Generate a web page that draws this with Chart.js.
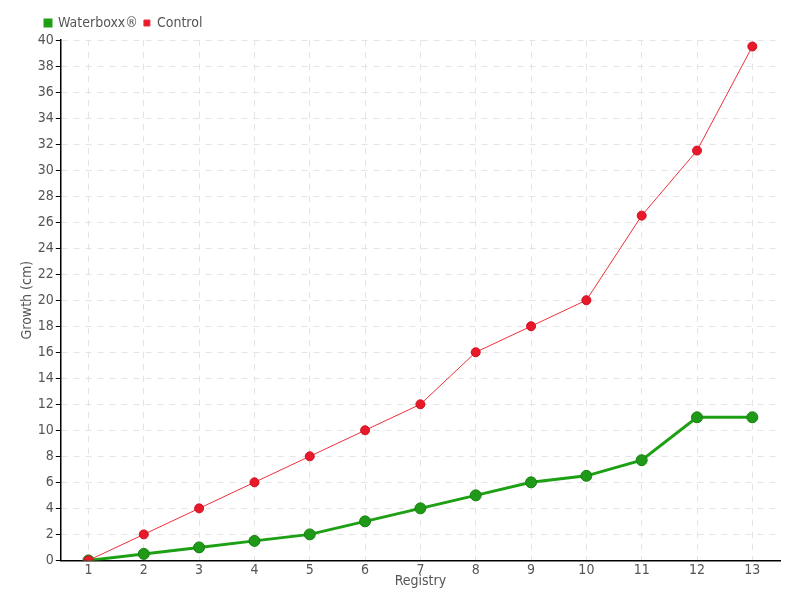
<!DOCTYPE html>
<html><head><meta charset="utf-8">
<script src="https://cdn.jsdelivr.net/npm/chart.js@4/dist/chart.umd.min.js"></script>
<style>html,body{margin:0;padding:0;background:#fff}#wrap{width:800px;height:600px}</style>
</head><body><div id="wrap"><canvas id="c" width="800" height="600"></canvas></div>
<script>
const categories = ['1','2','3','4','5','6','7','8','9','10','11','12','13'];
const waterboxx = [0,0.5,1,1.5,2,3,4,5,6,6.5,7.7,11,11];
const control = [0,2,4,6,8,10,12,16,18,20,26.5,31.5,39.5];
const seriesNames = ['Waterboxx®','Control'];
const FONT = "'DejaVu Sans Condensed', 'Liberation Sans Narrow', sans-serif";
const legendShift = {
  id: 'legendShift',
  afterLayout(chart) {
    const l = chart.legend;
    if (l && !l._shifted) {
      const d = l.draw.bind(l);
      l.draw = function (a) { const ctx = this.ctx; ctx.save(); ctx.translate(20, 0); d(a); ctx.restore(); };
      l._shifted = true;
    }
  }
};
new Chart(document.getElementById('c'), {
  type: 'line',
  plugins: [legendShift],
  data: {
    labels: categories,
    datasets: [
      {label: seriesNames[0], data: waterboxx, borderColor: '#1ea014', backgroundColor: '#1a9a12',
       pointBackgroundColor: '#1f9a18', pointBorderColor: '#17800f', borderWidth: 3, pointRadius: 5.5, pointBorderWidth: 1, order: 1, tension: 0},
      {label: seriesNames[1], data: control, borderColor: '#f0303c', backgroundColor: '#e8192a',
       pointBackgroundColor: '#e8192a', pointBorderColor: '#d01020', borderWidth: 1, pointRadius: 4.5, pointBorderWidth: 1, order: 0, tension: 0}
    ]
  },
  options: {
    responsive: false, animation: false,
    layout: {padding: {left: 19, right: 20, top: 10, bottom: 10}},
    plugins: {
      legend: {position: 'top', align: 'start',
        labels: {boxWidth: 6, boxHeight: 6, padding: 6, color: '#555', font: {family: FONT, size: 14},
          sort: (a, b) => a.datasetIndex - b.datasetIndex}},
      tooltip: {enabled: false}
    },
    scales: {
      x: {offset: true,
        grid: {color: '#e4e4e4', drawTicks: true, tickLength: 4, tickColor: 'rgba(0,0,0,0)'},
        border: {color: '#000', width: 1.5, dash: [6,6]},
        ticks: {color: '#555', font: {family: FONT, size: 14}, padding: -2},
        title: {display: true, text: 'Registry', color: '#555', font: {family: FONT, size: 14}, padding: {top: -4, bottom: 0}}
      },
      y: {min: 0, max: 40,
        grid: {color: '#e4e4e4', tickLength: 5, tickColor: '#000'},
        border: {color: '#000', width: 1.5, dash: [6,6]},
        ticks: {stepSize: 2, color: '#555', font: {family: FONT, size: 14}, padding: 2},
        title: {display: true, text: 'Growth (cm)', color: '#555', font: {family: FONT, size: 14}, padding: 0}
      }
    }
  }
});
</script></body></html>
